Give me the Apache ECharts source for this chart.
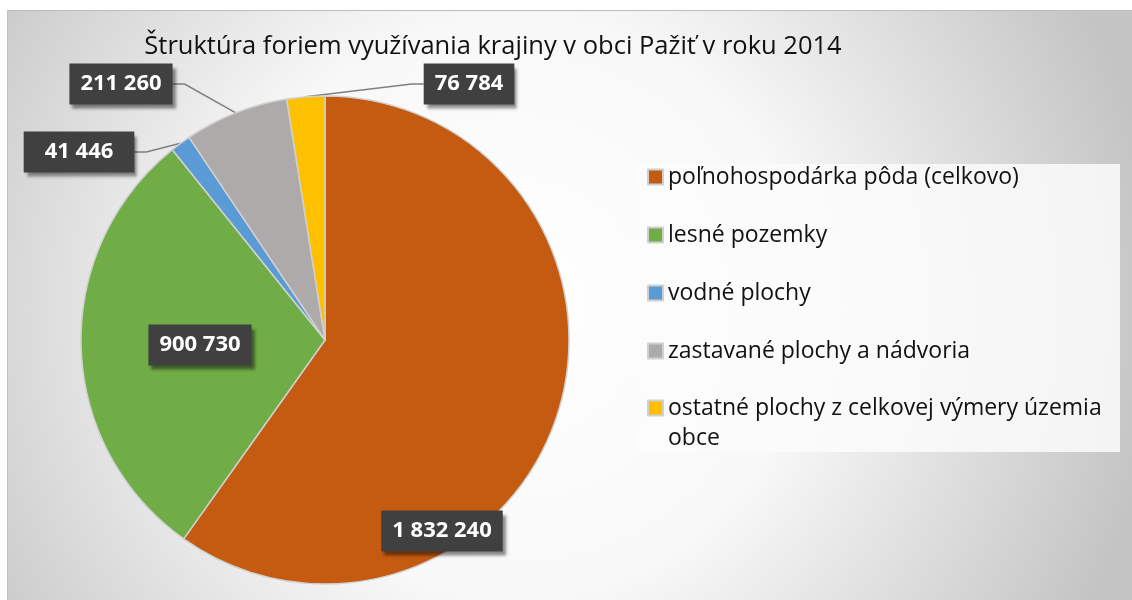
<!DOCTYPE html>
<html>
<head>
<meta charset="utf-8">
<script src="https://cdn.jsdelivr.net/npm/echarts@6/dist/echarts.min.js"></script>
<style>
  html, body { margin: 0; padding: 0; background: #fff; }
  #main { width: 1132px; height: 600px; }
</style>
</head>
<body>
<div id="main"></div>
<script>
  // údaje z grafu (m2)
  var categories = ['poľnohospodárka pôda (celkovo)', 'lesné pozemky', 'vodné plochy', 'zastavané plochy a nádvoria', 'ostatné plochy z celkovej výmery územia obce'];
  var values = [1832240, 900730, 41446, 211260, 76784];
  var colors = ['#C55A11', '#70AD47', '#5B9BD5', '#AEAAAA', '#FFC000'];
  var titleText = 'Štruktúra foriem využívania krajiny v obci Pažiť v roku 2014';

  // kde sedia popisky (stred boxu)
  var labelPos = [[442, 531], [200, 345], [79, 152], [121, 84], [469, 84]];
  var insideIdx = [0, 1];

  var font = '"Open Sans", "Noto Sans", sans-serif';

  function fmt(v) {
    return String(v).replace(/\B(?=(\d{3})+(?!\d))/g, ' ');
  }

  var pieData = values.map(function (v, i) {
    var item = { name: categories[i], value: v, itemStyle: { color: colors[i] } };
    if (insideIdx.indexOf(i) >= 0) {
      item.label = { position: 'inside' };
      item.labelLine = { show: false };
    }
    return item;
  });

  var myChart = echarts.init(document.getElementById('main'));
  var option = {
    animation: false,
    graphic: [
      {
        type: 'rect',
        silent: true,
        z: -10,
        shape: { x: 7.5, y: 10.5, width: 1130, height: 595 },
        style: {
          fill: {
            type: 'radial', x: 0.45, y: 0.5, r: 1.08,
            colorStops: [
              { offset: 0, color: '#ffffff' },
              { offset: 0.45, color: '#f8f8f8' },
              { offset: 1, color: '#c4c4c4' }
            ]
          },
          stroke: '#bdbdbd',
          lineWidth: 1
        }
      },
      {
        type: 'rect',
        silent: true,
        z: -5,
        shape: { x: 636, y: 164, width: 484, height: 288 },
        style: { fill: 'rgba(252,252,252,0.85)' }
      }
    ],
    title: {
      text: titleText,
      left: 493,
      textAlign: 'center',
      top: 34,
      padding: 0,
      textStyle: { fontFamily: font, fontSize: 25.5, fontWeight: 'normal', color: '#111' }
    },
    legend: [
      {
        data: categories.slice(0, 4),
        orient: 'vertical',
        left: 647,
        top: 164,
        padding: 0,
        itemWidth: 15,
        itemHeight: 15,
        itemGap: 32,
        icon: 'rect',
        textStyle: { fontFamily: font, fontSize: 23, color: '#111', lineHeight: 26 }
      },
      {
        data: categories.slice(4),
        orient: 'vertical',
        left: 647,
        top: 363,
        padding: 0,
        itemWidth: 15,
        itemHeight: 15,
        icon: 'rect',
        // prázdny prvý riadok, aby značka sedela pri prvom riadku textu
        formatter: function (name) { return '\n' + name; },
        textStyle: {
          fontFamily: font, fontSize: 23, color: '#111', lineHeight: 30,
          width: 485, overflow: 'break'
        }
      }
    ],
    series: [
      {
        name: 'využitie územia',
        type: 'pie',
        center: [325, 340],
        radius: 244,
        startAngle: 90,
        clockwise: true,
        itemStyle: { borderColor: '#d0d0d0', borderWidth: 1.5 },
        label: {
          show: true,
          position: 'outside',
          formatter: function (p) { return fmt(p.value); },
          color: '#fff',
          fontFamily: font,
          fontSize: 22,
          fontWeight: 'bold',
          lineHeight: 30,
          overflow: 'none',
          backgroundColor: '#404040',
          padding: [6, 11, 5, 11],
          shadowColor: 'rgba(0,0,0,0.45)',
          shadowBlur: 3,
          shadowOffsetX: 3,
          shadowOffsetY: 4
        },
        labelLine: {
          show: true,
          length: 12,
          length2: 12,
          smooth: false,
          lineStyle: { color: '#7f7f7f', width: 1.5 }
        },
        labelLayout: function (params) {
          var p = labelPos[params.dataIndex];
          return { x: p[0], y: p[1], align: 'center', verticalAlign: 'middle' };
        },
        data: pieData
      }
    ]
  };

  // pre echarts objekt nacitaj data
  myChart.setOption(option);
</script>
</body>
</html>
